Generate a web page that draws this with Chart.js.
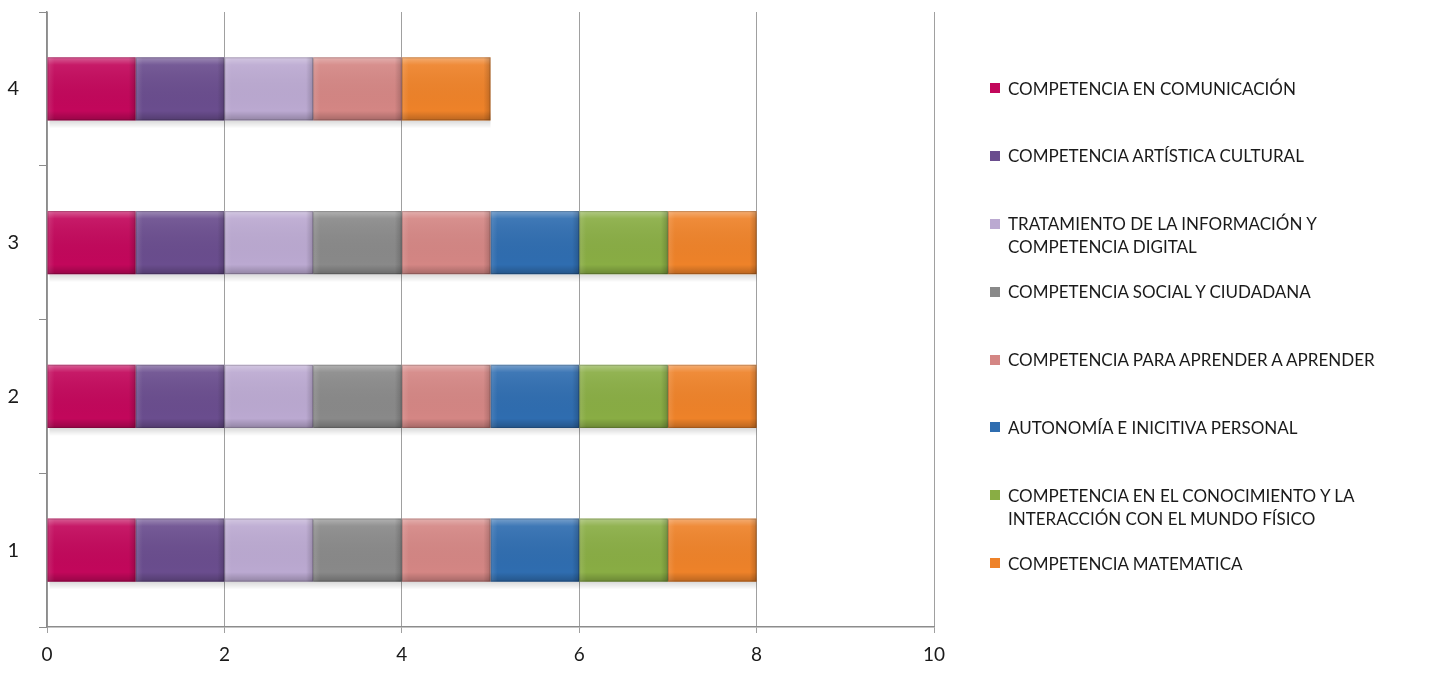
<!DOCTYPE html>
<html>
<head>
<meta charset="utf-8">
<script src="https://cdn.jsdelivr.net/npm/chart.js@4/dist/chart.umd.min.js"></script>
<style>
  html, body { margin: 0; padding: 0; background: #fff; }
  #wrap { position: relative; width: 1441px; height: 677px; }
  #chart { position: absolute; left: 0; top: 0; }
  #legend { position: absolute; left: 990px; top: 54px; font-family: Lato, "Open Sans", sans-serif; font-size: 17px; color: #1a1a1a; }
  .item { position: relative; height: 67.9px; padding-left: 18px; line-height: 23px; padding-top: 22.5px; box-sizing: border-box; }
  .box { position: absolute; left: 0; top: 29px; width: 10px; height: 10px; }
</style>
</head>
<body>
<div id="wrap">
  <canvas id="chart" width="1441" height="677"></canvas>
  <div id="legend"></div>
</div>
<script>
// --- Data ---
const categories = ["1", "2", "3", "4"];
const seriesNames = [
  "COMPETENCIA EN COMUNICACIÓN",
  "COMPETENCIA ARTÍSTICA CULTURAL",
  "TRATAMIENTO DE LA INFORMACIÓN Y\nCOMPETENCIA DIGITAL",
  "COMPETENCIA SOCIAL Y CIUDADANA",
  "COMPETENCIA PARA APRENDER A APRENDER",
  "AUTONOMÍA E INICITIVA PERSONAL",
  "COMPETENCIA EN EL CONOCIMIENTO Y LA\nINTERACCIÓN CON EL MUNDO FÍSICO",
  "COMPETENCIA MATEMATICA"
];
// one array per series, values for categories 1..4
const comunicacion = [1, 1, 1, 1];
const artistica = [1, 1, 1, 1];
const tratamiento = [1, 1, 1, 1];
const social = [1, 1, 1, 0];
const aprender = [1, 1, 1, 1];
const autonomia = [1, 1, 1, 0];
const conocimiento = [1, 1, 1, 0];
const matematica = [1, 1, 1, 1];
const xTicks = [0, 2, 4, 6, 8, 10];

const seriesValues = [comunicacion, artistica, tratamiento, social, aprender, autonomia, conocimiento, matematica];
const colors = ["#C2075B", "#6A4D8E", "#BBA9D1", "#898989", "#D48684", "#2F6DB0", "#89AD44", "#EE8229"];

// --- Bevel look for the bars ---
const bevelPlugin = {
  id: "bevel",
  beforeDatasetsDraw(chart) {
    // soft shadow under each bar row
    const ctx = chart.ctx;
    ctx.save();
    chart.getDatasetMeta(0).data.forEach((bar, j) => {
      let maxX = bar.base;
      chart.data.datasets.forEach((ds, i) => {
        const el = chart.getDatasetMeta(i).data[j];
        if (el && el.x > maxX) maxX = el.x;
      });
      const top = bar.y + bar.height / 2;
      const g = ctx.createLinearGradient(0, top, 0, top + 8);
      g.addColorStop(0, "rgba(0,0,0,0.15)");
      g.addColorStop(1, "rgba(0,0,0,0)");
      ctx.fillStyle = g;
      ctx.fillRect(bar.base + 2, top, maxX - bar.base - 2, 8);
    });
    ctx.restore();
  },
  afterDatasetsDraw(chart) {
    const ctx = chart.ctx;
    chart.data.datasets.forEach((ds, i) => {
      chart.getDatasetMeta(i).data.forEach(bar => {
        const left = Math.min(bar.x, bar.base), right = Math.max(bar.x, bar.base);
        const w = right - left;
        if (w < 1) return;
        const top = bar.y - bar.height / 2, h = bar.height;
        ctx.save();
        const g = ctx.createLinearGradient(0, top, 0, top + h);
        g.addColorStop(0, "rgba(255,255,255,0.35)");
        g.addColorStop(0.12, "rgba(255,255,255,0.08)");
        g.addColorStop(0.85, "rgba(0,0,0,0.0)");
        g.addColorStop(1, "rgba(0,0,0,0.22)");
        ctx.fillStyle = g;
        ctx.fillRect(left, top, w, h);
        const s = ctx.createLinearGradient(left, 0, right, 0);
        s.addColorStop(0, "rgba(255,255,255,0.12)");
        s.addColorStop(0.08, "rgba(255,255,255,0)");
        s.addColorStop(0.92, "rgba(0,0,0,0)");
        s.addColorStop(1, "rgba(0,0,0,0.18)");
        ctx.fillStyle = s;
        ctx.fillRect(left, top, w, h);
        ctx.strokeStyle = "rgba(0,0,0,0.18)";
        ctx.lineWidth = 1;
        ctx.strokeRect(left + 0.5, top + 0.5, w - 1, h - 1);
        ctx.restore();
      });
    });
  }
};

// --- Chart ---
const ctx = document.getElementById("chart").getContext("2d");
const chart = new Chart(ctx, {
  type: "bar",
  data: {
    labels: categories,
    datasets: seriesValues.map((vals, i) => ({
      label: seriesNames[i].replace("\n", " "),
      data: vals,
      backgroundColor: colors[i],
      borderWidth: 0,
      categoryPercentage: 1,
      barPercentage: 0.41
    }))
  },
  options: {
    indexAxis: "y",
    responsive: false,
    animation: false,
    layout: { padding: { top: 12, right: 507, left: 0, bottom: 0 } },
    plugins: { legend: { display: false }, tooltip: { enabled: false } },
    scales: {
      x: {
        stacked: true,
        min: 0,
        max: 10,
        afterBuildTicks: (scale) => { scale.ticks = xTicks.map(v => ({ value: v })); },
        afterFit: (scale) => { scale.height = 50; },
        grid: { color: "#A0A0A0", lineWidth: 1, tickLength: 6, drawTicks: true },
        border: { color: "#8C8C8C", width: 1.5 },
        ticks: { color: "#1a1a1a", padding: 10, font: { family: "Lato", size: 19 }, maxRotation: 0 }
      },
      y: {
        stacked: true,
        reverse: true,
        afterFit: (scale) => { scale.width = 47; scale.paddingTop = 0; scale.paddingBottom = 0; },
        grid: { drawOnChartArea: false, color: "#8C8C8C", tickLength: 8, offset: true },
        border: { color: "#8C8C8C", width: 1.5 },
        ticks: { color: "#1a1a1a", padding: 20, font: { family: "Lato", size: 20 } }
      }
    }
  },
  plugins: [bevelPlugin]
});

// --- Legend ---
const legendEl = document.getElementById("legend");
seriesNames.forEach((name, i) => {
  const item = document.createElement("div");
  item.className = "item";
  item.innerHTML = `<span class="box" style="background:${colors[i]}"></span>${name.replace("\n", "<br>")}`;
  legendEl.appendChild(item);
});
</script>
</body>
</html>
